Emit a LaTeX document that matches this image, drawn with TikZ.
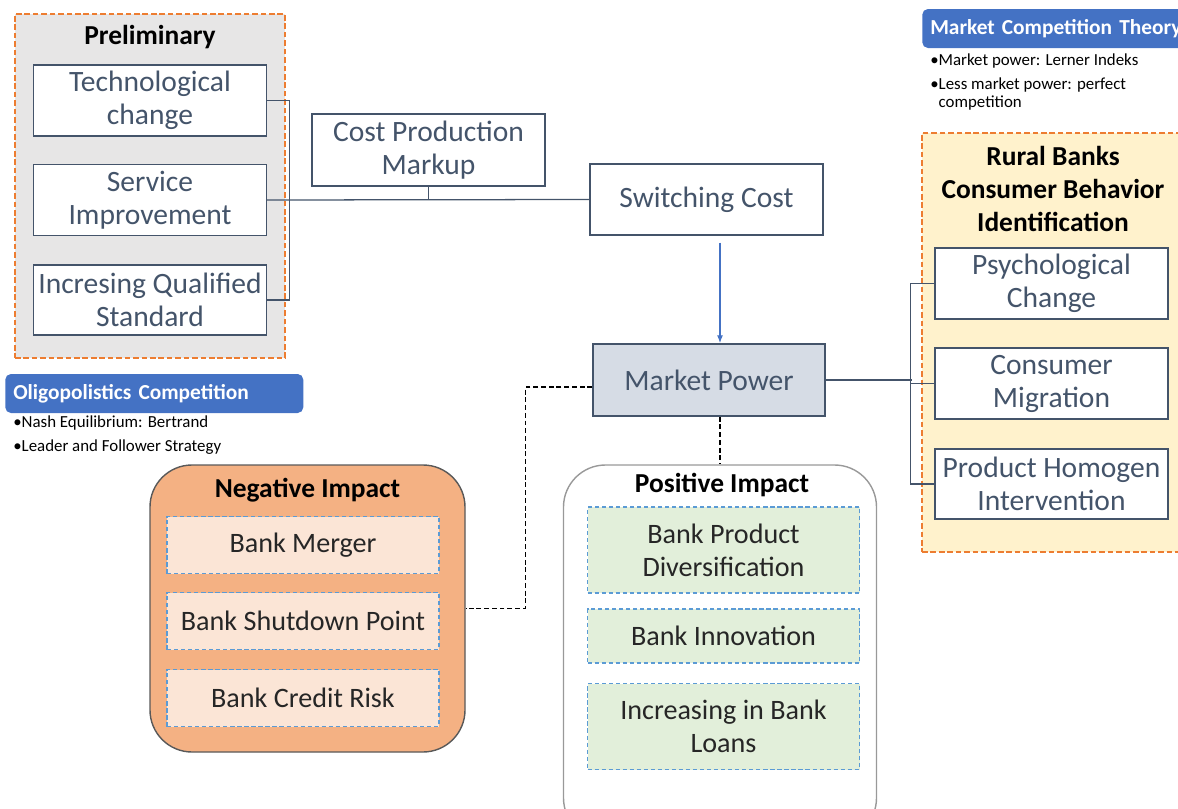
\documentclass[tikz,border=0pt]{standalone}
\usepackage{fontspec}
\setmainfont{Carlito}
\usepackage{tikz}
\usetikzlibrary{arrows.meta, positioning}

\definecolor{slate}{HTML}{44546A}
\definecolor{greybg}{HTML}{E7E6E6}
\definecolor{creambg}{HTML}{FFF2CC}
\definecolor{orangeline}{HTML}{ED7D31}
\definecolor{headblue}{HTML}{4472C4}
\definecolor{powerfill}{HTML}{D6DCE5}
\definecolor{negfill}{HTML}{F4B183}
\definecolor{negitemfill}{HTML}{FBE5D6}
\definecolor{positemfill}{HTML}{E2EFDA}
\definecolor{itemline}{HTML}{5B9BD5}

\begin{document}
\begin{tikzpicture}[
      x=0.025cm, y=-0.025cm,
      every node/.style={inner sep=0pt, align=center},
      group/.style={draw=orangeline, dashed, dash pattern=on 4pt off 2pt, line width=0.8pt},
      title/.style={font=\fontsize{19.5}{23.5}\selectfont\bfseries},
      box/.style={draw=slate, line width=1pt, fill=white, text=slate, font=\fontsize{21}{23.5}\selectfont, minimum width=233*0.025cm, minimum height=71*0.025cm},
      header/.style={fill=headblue, rounded corners=4pt, text=white, font=\fontsize{15.2}{17}\selectfont\bfseries, minimum height=39*0.025cm, align=left, inner xsep=8*0.025cm},
      note/.style={anchor=west, align=left, font=\fontsize{12}{12.8}\selectfont},
      impact/.style={line width=1pt, rounded corners=1.05cm},
      item/.style={draw=itemline, dashed, dash pattern=on 3pt off 2pt, line width=0.9pt, text=black!85, font=\fontsize{20}{23.5}\selectfont, minimum width=272*0.025cm},
      link/.style={draw=slate, line width=0.9pt},
      dlink/.style={draw=black, line width=0.9pt, dash pattern=on 3.5pt off 2pt},
      flow/.style={draw=headblue, line width=0.9pt, -{Latex[length=2mm]}}
    ]
    \path[use as bounding box, clip] (0,0) rectangle (1178,809);

    % groups behind everything
    \node[group, fill=greybg, minimum width=270*0.025cm, minimum height=344*0.025cm] (prelim) at (150,186) {};
    \node[title] (prelimtitle) at (150,37) {Preliminary};
    \node[group, fill=creambg, minimum width=262*0.025cm, minimum height=419*0.025cm] (rural) at (1053,342.5) {};
    \node[title] (ruraltitle) at (1053,189) {Rural Banks\\Consumer Behavior\\Identification};

    % theory notes
    \node[header, text width=300*0.025cm, anchor=west] (mct) at (922,28.5) {Market Competition Theory};
    \node[note] (mct1) at (930,61) {•Market power: Lerner Indeks};
    \node[note] (mct2) at (930,94) {•Less market power: perfect\\\hphantom{•}competition};
    \node[header, text width=282*0.025cm, anchor=west] (oligo) at (5,393.5) {Oligopolistics Competition};
    \node[note] (oligo1) at (13,423) {•Nash Equilibrium: Bertrand};
    \node[note] (oligo2) at (13,447) {•Leader and Follower Strategy};

    % main boxes
    \node[box] (tech) at (150,100.5) {Technological\\change};
    \node[box] (serv) at (150,200) {Service\\Improvement};
    \node[box, minimum height=70*0.025cm] (qual) at (150,300) {Incresing Qualified\\Standard};
    \node[box, minimum height=72*0.025cm] (cost) at (428.5,150) {Cost Production\\Markup};
    \node[box] (switch) at (706.5,199.5) {Switching Cost};
    \node[box, fill=powerfill, minimum width=232*0.025cm, minimum height=72*0.025cm] (mp) at (709,380) {Market Power};
    \node[box] (psy) at (1051.5,283.5) {Psychological\\Change};
    \node[box] (cons) at (1051.5,383.5) {Consumer\\Migration};
    \node[box, minimum height=70*0.025cm] (prod) at (1051.5,484) {Product Homogen\\Intervention};

    % impacts
    \node[impact, draw=black!65, fill=negfill, minimum width=315*0.025cm, minimum height=287*0.025cm] (neg) at (307.5,608.5) {};
    \node[title] (negtitle) at (307.5,490) {Negative Impact};
    \node[item, fill=negitemfill, minimum height=57*0.025cm] (merger) at (303,545) {Bank Merger};
    \node[item, fill=negitemfill, minimum height=57*0.025cm] (shut) at (303,621) {Bank Shutdown Point};
    \node[item, fill=negitemfill, minimum height=57*0.025cm] (risk) at (303,698) {Bank Credit Risk};

    \node[impact, draw=black!40, fill=white, minimum width=313*0.025cm, minimum height=375*0.025cm] (pos) at (720,652.5) {};
    \node[title] (postitle) at (722,485) {Positive Impact};
    \node[item, fill=positemfill, minimum height=86*0.025cm] (div) at (723.5,550) {Bank Product\\Diversification};
    \node[item, fill=positemfill, minimum height=54*0.025cm] (innov) at (723.5,636) {Bank Innovation};
    \node[item, fill=positemfill, minimum height=86*0.025cm] (loans) at (723.5,726.5) {Increasing in Bank\\Loans};

    % connectors
    \draw[link] (tech.east) -- ++(22,0) |- (qual.east);
    \draw[link] (serv.east) -- (switch.west);
    \draw[link] (cost.south) -- (cost.south |- serv.east);
    \draw[flow] (switch.south -| pos.north) ++(0,7) -- (mp.north -| pos.north);
    \draw[link] (mp.east) -- ++(86,0);
    \draw[link] (psy.west) -- ++(-24,0) |- (prod.west);
    \draw[link] (cons.west) -- ++(-24,0);
    \draw[dlink] (mp.west) ++(0,7) -- ++(-67,0) |- (neg.east);
    \draw[dlink] (mp.south -| pos.north) -- (pos.north);
  \end{tikzpicture}
\end{document}
